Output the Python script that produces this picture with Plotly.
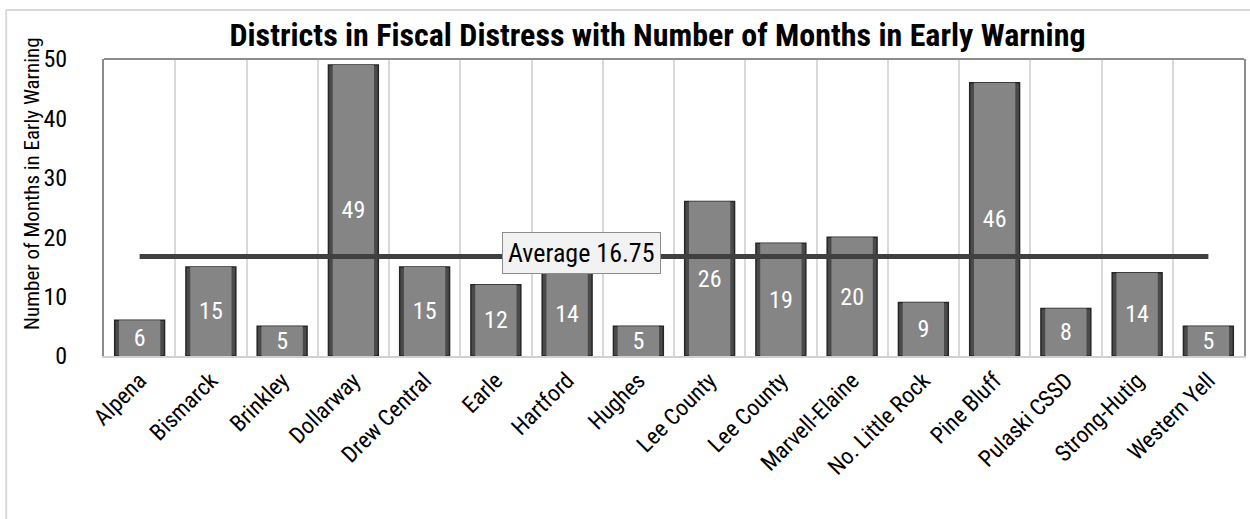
import plotly.graph_objects as go

districts = ["Alpena", "Bismarck", "Brinkley", "Dollarway", "Drew Central", "Earle",
             "Hartford", "Hughes", "Lee County", "Lee County", "Marvell-Elaine",
             "No. Little Rock", "Pine Bluff", "Pulaski CSSD", "Strong-Hutig", "Western Yell"]
months = [6, 15, 5, 49, 15, 12, 14, 5, 26, 19, 20, 9, 46, 8, 14, 5]
average = 16.75
y_ticks = [0, 10, 20, 30, 40, 50]

FONT = "Liberation Sans Narrow, Arial Narrow, Roboto Condensed, sans-serif"
pos = list(range(len(districts)))

fig = go.Figure()
# outer (dark bevel edge) bar
fig.add_trace(go.Bar(
    x=pos, y=months, width=0.7,
    marker=dict(color="#4a4a4a", line=dict(color="#262626", width=1.5)),
    showlegend=False, hoverinfo="skip",
))
# inner face
fig.add_trace(go.Bar(
    x=pos, y=months, width=0.58,
    marker=dict(color="#858585", line=dict(width=0)),
    text=[str(v) for v in months], textposition="inside", insidetextanchor="middle",
    constraintext="none", textangle=0,
    textfont=dict(family=FONT, size=24, color="white"),
    showlegend=False, hoverinfo="skip",
))
fig.add_trace(go.Scatter(
    x=[pos[0], pos[-1]], y=[average, average], mode="lines",
    line=dict(color="#404040", width=5), showlegend=False, hoverinfo="skip",
))
fig.add_annotation(
    x=6.2, y=average, yshift=4, text=f"Average {average}", showarrow=False,
    font=dict(family=FONT, size=26, color="black"),
    bgcolor="#f2f2f2", bordercolor="#8c8c8c", borderwidth=1, borderpad=5,
)
fig.add_annotation(
    xref="paper", yref="paper", x=-0.063, y=0.58, text="Number of Months in Early Warning",
    textangle=-90, showarrow=False, xanchor="center", yanchor="middle",
    font=dict(family=FONT, size=21, color="black"),
)

fig.update_layout(
    width=1250, height=519,
    margin=dict(l=104, r=4, t=59, b=163),
    paper_bgcolor="white", plot_bgcolor="white",
    barmode="overlay",
    title=dict(text="<b>Districts in Fiscal Distress with Number of Months in Early Warning</b>",
               x=0.526, xanchor="center", y=0.933, yanchor="middle",
               font=dict(family=FONT, size=32, color="black")),
    font=dict(family=FONT, color="black"),
    xaxis=dict(
        range=[-0.5, len(districts) - 0.5], tickmode="array", tickvals=pos, ticktext=districts,
        tickangle=-45, tickfont=dict(family=FONT, size=23, color="black"),
        showgrid=False, ticks="", showline=True, linecolor="#d0d0d0", linewidth=2,
        minor=dict(tickvals=[p + 0.5 for p in pos[:-1]], showgrid=True,
                   gridcolor="#d9d9d9", gridwidth=2, ticks=""),
        zeroline=False,
    ),
    yaxis=dict(
        range=[0, 50], tickmode="array", tickvals=y_ticks,
        tickfont=dict(family=FONT, size=24, color="black"),
        ticklabelstandoff=30,
        showgrid=False, zeroline=False, ticks="", ticklen=0,
        showline=True, linecolor="#8c8c8c", linewidth=2, mirror=True,
    ),
    shapes=[
        dict(type="line", xref="paper", yref="y domain", x0=0, x1=1, y0=1, y1=1,
             line=dict(color="#8c8c8c", width=2)),
        dict(type="line", xref="paper", yref="paper", x0=-0.0858, x1=1.01, y0=1.165, y1=1.165,
             line=dict(color="#d9d9d9", width=2)),
        dict(type="line", xref="paper", yref="paper", x0=-0.0858, x1=-0.0858, y0=1.165, y1=-0.6,
             line=dict(color="#d9d9d9", width=2)),
    ],
)

fig.write_html("out.html", config={"displayModeBar": False},
               post_script="document.body.style.margin='0';document.body.style.padding='0';")
